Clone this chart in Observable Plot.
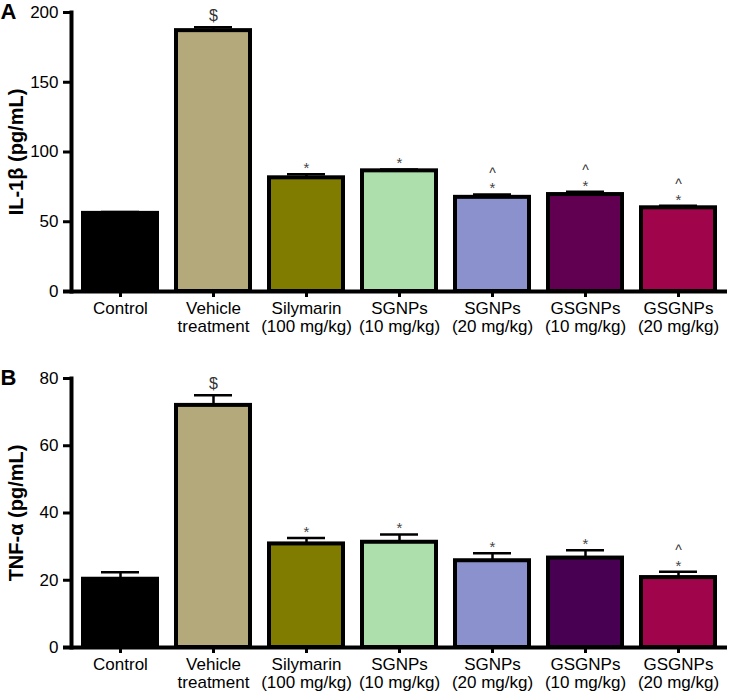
<!DOCTYPE html>
<html>
<head>
<meta charset="utf-8">
<script src="https://cdn.jsdelivr.net/npm/d3@7"></script>
<script src="https://cdn.jsdelivr.net/npm/@observablehq/plot@0.6"></script>
<style>
  html, body { margin: 0; padding: 0; background: #fff; }
  #chart { width: 729px; }
  #chart svg { display: block; }
</style>
</head>
<body>
<div id="chart"></div>
<script>
const categories = ["Control", "Vehicle\ntreatment", "Silymarin\n(100 mg/kg)", "SGNPs\n(10 mg/kg)", "SGNPs\n(20 mg/kg)", "GSGNPs\n(10 mg/kg)", "GSGNPs\n(20 mg/kg)"];

const colorsA = ["#000000", "#b4a97a", "#7f7c00", "#addfac", "#8a91cd", "#610050", "#a0044a"];
const colorsB = ["#000000", "#b4a97a", "#7f7c00", "#addfac", "#8a91cd", "#470052", "#a0044a"];

const il1bMean = [56, 187, 81.5, 86.5, 67.5, 69.5, 60];
const il1bSem  = [1, 2.5, 2.5, 1, 2, 2, 1.5];
const il1bSig   = ["", "$", "*", "*", "*", "*", "*"];
const il1bCaret = ["", "", "", "", "^", "^", "^"];
const il1bTicks = [0, 50, 100, 150, 200];

const tnfMean = [20.3, 72, 30.8, 31.3, 25.8, 26.6, 20.8];
const tnfSem  = [2.1, 3, 1.8, 2.3, 2.2, 2.3, 1.7];
const tnfSig   = ["", "$", "*", "*", "*", "*", "*"];
const tnfCaret = ["", "", "", "", "", "", "^"];
const tnfTicks = [0, 20, 40, 60, 80];

const FONT = "'Liberation Sans', Arial, Helvetica, sans-serif";

function panel({letter, label, means, sems, colors, sig, caret, ticks, ymax, height, marginTop, marginBottom, letterDy}) {
  const rows = categories.map((c, i) => ({cat: c, v: means[i], e: sems[i], top: means[i] + sems[i], color: colors[i], sig: sig[i], caret: caret[i]}));
  const dollars = rows.filter(d => d.sig === "$");
  const stars = rows.filter(d => d.sig === "*");
  const carets = rows.filter(d => d.caret);
  return Plot.plot({
    width: 729,
    height,
    marginLeft: 71,
    marginRight: 2,
    marginTop,
    marginBottom,
    style: {fontFamily: FONT, fontSize: "17px", color: "#000", background: "#fff"},
    x: {domain: categories, paddingInner: 0.2, paddingOuter: 0.1, label: null},
    y: {domain: [0, ymax], label: null},
    marks: [
      Plot.ruleX(rows, {x: "cat", y1: "v", y2: "top", stroke: "#000", strokeWidth: 2.5}),
      Plot.tickY(rows, {x: "cat", y: "top", stroke: "#000", strokeWidth: 2.5, insetLeft: 18, insetRight: 18}),
      Plot.barY(rows, {x: "cat", y: "v", fill: "color", stroke: "#000", strokeWidth: 4}),
      Plot.text(dollars, {x: "cat", y: "top", text: "sig", lineAnchor: "middle", dy: -11, fontSize: 16, fill: "#333"}),
      Plot.text(stars, {x: "cat", y: "top", text: "sig", lineAnchor: "middle", dy: -6, fontSize: 15, fill: "#444"}),
      Plot.text(carets, {x: "cat", y: "top", text: "caret", lineAnchor: "middle", dy: -21, fontSize: 14, fill: "#333"}),
      Plot.frame({anchor: "left", stroke: "#000", strokeWidth: 4}),
      Plot.ruleY([0], {stroke: "#000", strokeWidth: 4, insetLeft: -8}),
      Plot.axisY({ticks, tickSize: 8, tickPadding: 5, strokeWidth: 3, fontSize: 17, label: null}),
      Plot.axisX({tickSize: 6, tickPadding: 3, strokeWidth: 3, fontSize: 17, lineHeight: 1.1, label: null}),
      Plot.text([label], {frameAnchor: "left", textAnchor: "middle", lineAnchor: "middle", rotate: -90, dx: -55, fontSize: 20, fontWeight: "bold", fill: "#000"}),
      Plot.text([letter], {frameAnchor: "top-left", textAnchor: "start", lineAnchor: "top", dx: -71, dy: letterDy, fontSize: 22, fontWeight: "bold", fill: "#000"})
    ]
  });
}

const chart = document.getElementById("chart");
chart.append(panel({
  letter: "A", label: "IL-1β (pg/mL)", means: il1bMean, sems: il1bSem, colors: colorsA, sig: il1bSig, caret: il1bCaret,
  ticks: il1bTicks, ymax: 200, height: 345, marginTop: 12, marginBottom: 54, letterDy: -9
}));
chart.append(panel({
  letter: "B", label: "TNF-α (pg/mL)", means: tnfMean, sems: tnfSem, colors: colorsB, sig: tnfSig, caret: tnfCaret,
  ticks: tnfTicks, ymax: 80, height: 352, marginTop: 33, marginBottom: 50, letterDy: -9
}));
</script>
</body>
</html>
